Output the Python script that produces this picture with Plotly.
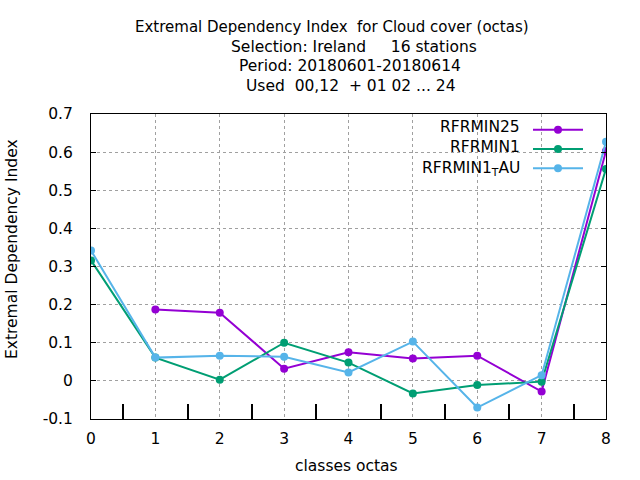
import plotly.graph_objects as go

# classes octas
octas = [0, 1, 2, 3, 4, 5, 6, 7, 8]

# EDI values (None = no point)
rfrmin25 = [None, 0.187, 0.179, 0.032, 0.075, 0.059, 0.066, -0.028, 0.603]
rfrmin1 = [0.316, 0.061, 0.003, 0.100, 0.048, -0.033, -0.011, -0.002, 0.556]
rfrmin1_tau = [0.342, 0.061, 0.066, 0.063, 0.022, 0.103, -0.070, 0.015, 0.627]

ytick_vals = [-0.1, 0, 0.1, 0.2, 0.3, 0.4, 0.5, 0.6, 0.7]
ytick_text = ['-0.1', '0', '0.1', '0.2', '0.3', '0.4', '0.5', '0.6', '0.7']

series = [
    ('RFRMIN25', rfrmin25, '#9400d3'),
    ('RFRMIN1', rfrmin1, '#009e73'),
    ('RFRMIN1<sub>T</sub>AU', rfrmin1_tau, '#56b4e9'),
]

FS = 15.5
# plot area in pixels: x 91..606, y 114..419
L, R, T, B = 91, 606, 114, 419


def px_x(p):
    return (p - L) / (R - L)


def px_y(p):
    return (B - p) / (B - T)


fig = go.Figure()
for name, vals, col in series:
    fig.add_trace(go.Scatter(
        x=octas, y=vals, name=' ', mode='lines+markers',
        line=dict(color=col, width=2),
        marker=dict(color=col, size=8, symbol='circle'),
    ))

# gnuplot-like legend: text on the left, sample on the right
label_y = [127, 146.5, 168.5]  # last one has a subscript, so its box is taller
for (name, vals, col), ly in zip(series, label_y):
    fig.add_annotation(text=name, xref='paper', yref='paper',
                       x=px_x(522), y=px_y(ly),
                       xanchor='right', yanchor='middle', showarrow=False,
                       font=dict(size=FS))

# title lines (gnuplot centres each line with its own padding)
title_lines = [
    ('Extremal Dependency Index&nbsp; for Cloud cover (octas)', 332, 27.5, 15),
    ('Selection: Ireland&nbsp;&nbsp;&nbsp;&nbsp; 16 stations', 354, 47, FS),
    ('Period: 20180601-20180614', 350, 66.5, FS),
    ('Used&nbsp; 00,12&nbsp; + 01 02 ... 24', 351, 85.5, FS),
]
for txt, cx, cy, fs in title_lines:
    fig.add_annotation(text=txt, xref='paper', yref='paper',
                       x=px_x(cx), y=px_y(cy), xanchor='center', yanchor='middle',
                       showarrow=False, font=dict(size=fs))

fig.add_annotation(text='classes octas', xref='paper', yref='paper',
                   x=px_x(346), y=px_y(466), xanchor='center', yanchor='middle',
                   showarrow=False, font=dict(size=FS))
fig.add_annotation(text='Extremal Dependency Index', xref='paper', yref='paper',
                   x=px_x(12), y=px_y(249), xanchor='center', yanchor='middle',
                   textangle=-90, showarrow=False, font=dict(size=FS))

fig.update_layout(
    width=640, height=480,
    paper_bgcolor='white', plot_bgcolor='white',
    font=dict(family='DejaVu Sans', size=FS, color='black'),
    margin=dict(l=L, r=640 - R, t=T, b=480 - B),
    showlegend=True,
    legend=dict(x=px_x(528), xanchor='left', y=px_y(115), yanchor='top',
                bgcolor='rgba(0,0,0,0)', font=dict(size=12.5),
                itemwidth=50, tracegroupgap=0),
)

fig.update_xaxes(
    range=[0, 8], tickmode='linear', tick0=0, dtick=1, automargin=False,
    showline=True, linecolor='black', linewidth=1, mirror=True,
    showgrid=True, gridcolor='#a0a0a0', griddash='dot', gridwidth=1,
    ticks='', zeroline=False, ticklabelstandoff=5,
    minor=dict(tickmode='linear', tick0=0.5, dtick=1, ticks='inside',
               ticklen=15, tickwidth=2, tickcolor='black', showgrid=False),
)
fig.update_yaxes(
    range=[-0.1, 0.7], tickmode='array', tickvals=ytick_vals, ticktext=ytick_text,
    automargin=False,
    showline=True, linecolor='black', linewidth=1, mirror='allticks',
    showgrid=True, gridcolor='#a0a0a0', griddash='dot', gridwidth=1,
    ticks='inside', ticklen=5, tickcolor='black', zeroline=False,
    ticklabelstandoff=14,
)

# drop the default 8px body margin so the figure fills the window
fig.write_html('out.html', config={'displayModeBar': False},
               post_script="document.body.style.margin='0';")
